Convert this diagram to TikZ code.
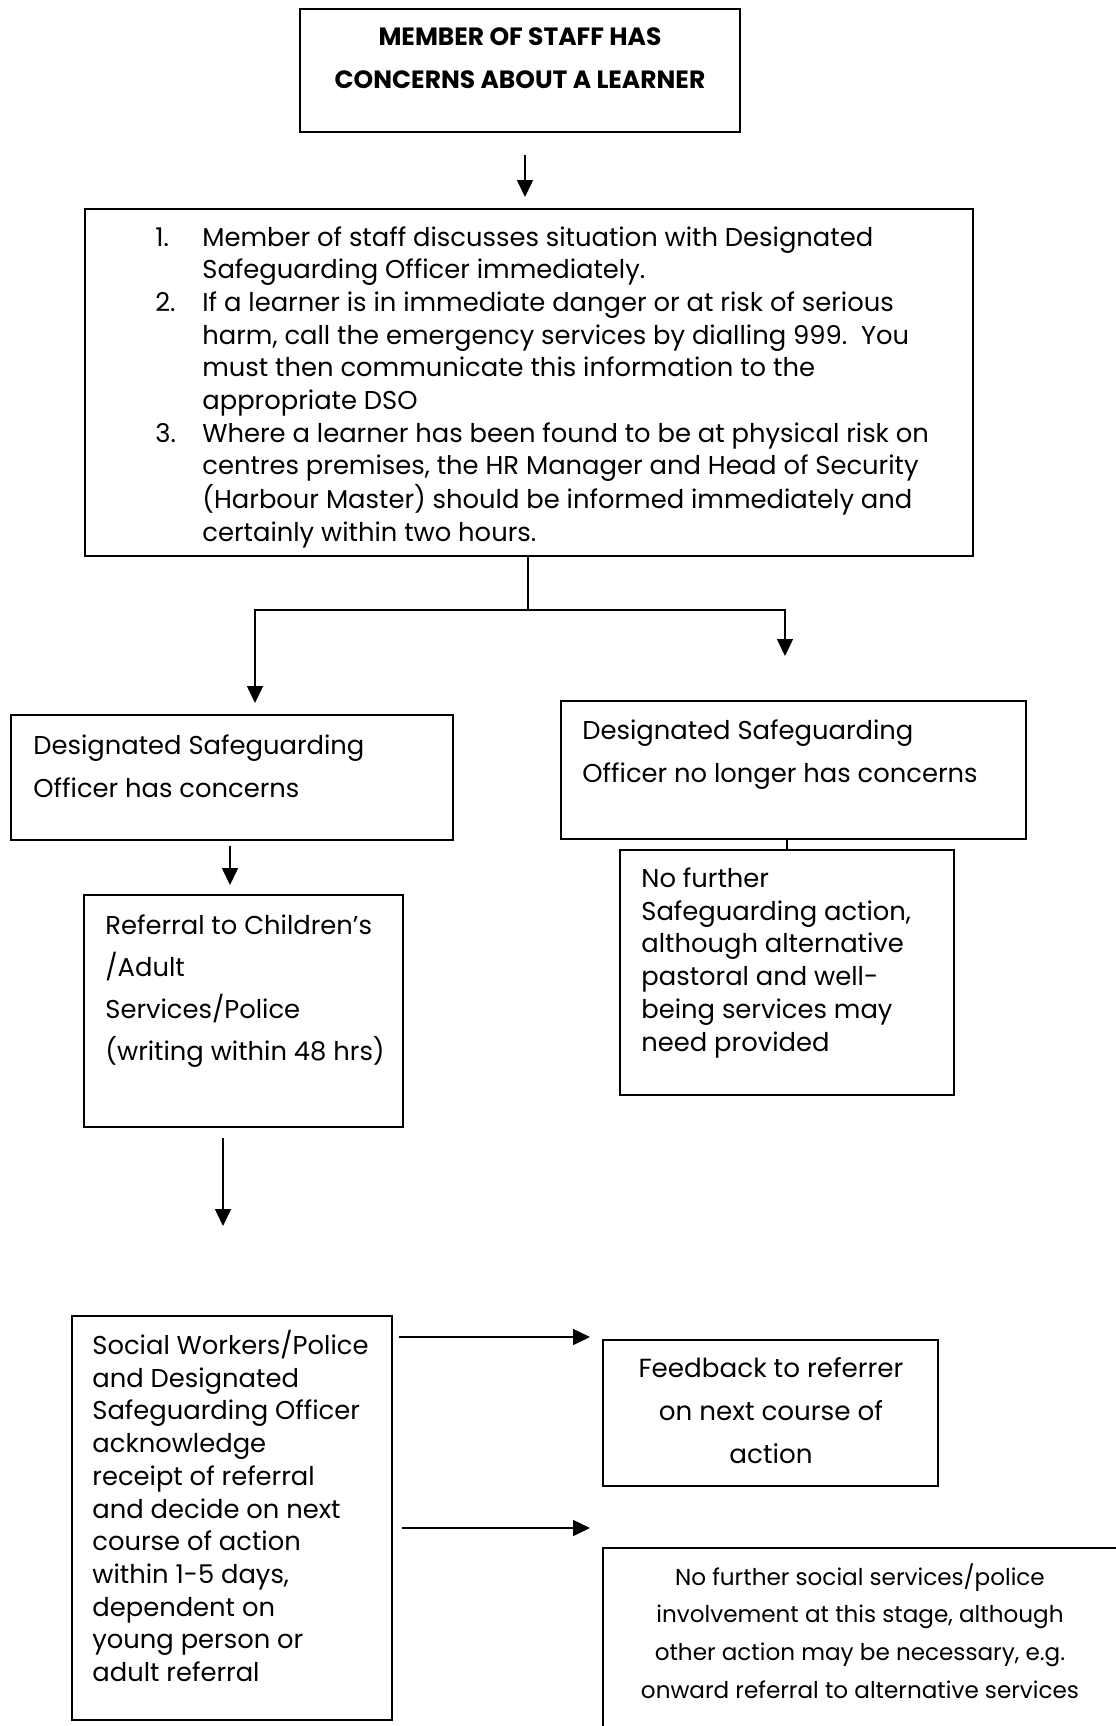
\documentclass[tikz,border=0pt]{standalone}
\usepackage{fontspec}
\setmainfont{Poppins}
\usetikzlibrary{arrows.meta, positioning, calc}

\newcommand{\boxlines}[2]{\begin{tabular}[t]{@{}#1@{}}#2\end{tabular}}

\tikzset{
    flowbox/.style={draw, rectangle, line width=1pt, inner sep=0pt},
    boxtext/.style={inner sep=0pt, anchor=base west, font=\fontsize{12.9}{16.35}\selectfont},
    widetext/.style={boxtext, font=\fontsize{12.9}{21.5}\selectfont},
    flowarrow/.style={-{Triangle[length=8.5pt, width=8pt]}, line width=0.75pt},
    flowline/.style={line width=0.75pt},
}

\begin{document}
\begin{tikzpicture}[x=0.5pt, y=-0.5pt]
    \useasboundingbox (0,0) rectangle (1115,1726);

    % Boxes
    \node[flowbox, minimum width=220pt, minimum height=61.5pt] (staff) at (520,70.5) {};
    \node[flowbox, minimum width=444pt, minimum height=173.5pt] (steps) at (529,382.5) {};
    \node[flowbox, minimum width=221pt, minimum height=62.5pt] (concern) at (232,777.5) {};
    \node[flowbox, minimum width=232.5pt, minimum height=69pt] (noconcern) at (793.5,770) {};
    \node[flowbox, minimum width=167pt, minimum height=122.5pt] (noaction) at (787,972.5) {};
    \node[flowbox, minimum width=159.5pt, minimum height=116pt] (referral) at (243.5,1011) {};
    \node[flowbox, minimum width=160pt, minimum height=202pt] (social) at (232,1518) {};
    \node[flowbox, minimum width=167.5pt, minimum height=73pt] (feedback) at (770.5,1413) {};
    \node[flowbox, minimum width=268.5pt, minimum height=101pt] (nofurther) at (871.5,1649) {};

    % Texts
    \node[boxtext, anchor=base, font=\bfseries\fontsize{12.5}{21.5}\selectfont] (stafftxt) at (520,45.5)
          {\boxlines{c}{MEMBER OF STAFF HAS\\CONCERNS ABOUT A LEARNER}};
    \node[boxtext] (stepstxt) at (155,246)
          {\begin{tabular}[t]{@{}p{23.5pt}@{}l@{}}
           1. & Member of staff discusses situation with Designated\\
              & Safeguarding Officer immediately.\\
           2. & If a learner is in immediate danger or at risk of serious\\
              & harm, call the emergency services by dialling 999.\ \ You\\
              & must then communicate this information to the\\
              & appropriate DSO\\
           3. & Where a learner has been found to be at physical risk on\\
              & centres premises, the HR Manager and Head of Security\\
              & (Harbour Master) should be informed immediately and\\
              & certainly within two hours.
           \end{tabular}};
    \node[widetext] (concerntxt) at (33,754)
          {\boxlines{l}{Designated Safeguarding\\Officer has concerns}};
    \node[widetext] (noconcerntxt) at (582,739.5)
          {\boxlines{l}{Designated Safeguarding\\Officer no longer has concerns}};
    \node[boxtext] (noactiontxt) at (641,887.5)
          {\boxlines{l}{No further\\Safeguarding action,\\although alternative\\pastoral and well-\\being services may\\need provided}};
    \node[widetext, font=\fontsize{12.9}{21}\selectfont] (referraltxt) at (105,934.5)
          {\boxlines{l}{Referral to Children’s\\/Adult\\Services/Police\\(writing within 48 hrs)}};
    \node[boxtext] (socialtxt) at (92,1354.5)
          {\boxlines{l}{Social Workers/Police\\and Designated\\Safeguarding Officer\\acknowledge\\receipt of referral\\and decide on next\\course of action\\within 1-5 days,\\dependent on\\young person or\\adult referral}};
    \node[widetext, anchor=base, font=\fontsize{13.1}{21.5}\selectfont] (feedbacktxt) at (771,1377)
          {\boxlines{c}{Feedback to referrer\\on next course of\\action}};
    \node[boxtext, anchor=base, font=\fontsize{11.55}{18.9}\selectfont] (nofurthertxt) at (860,1585)
          {\boxlines{c}{No further social services/police\\involvement at this stage, although\\other action may be necessary, e.g.\\onward referral to alternative services}};

    % Connections
    \draw[flowarrow, shorten <=11pt, shorten >=5.5pt] ([xshift=2.5pt]staff.south) -- ([xshift=2.5pt]staff.south |- steps.north);
    \coordinate (split) at ($(steps.south)+(-1,53)$);
    \draw[flowline] (steps.south -| split) -- (split);
    \draw[flowarrow, shorten >=5.5pt] (split) -| ([xshift=11.5pt]concern.north);
    \draw[flowarrow, shorten >=22pt] (split) -| ([xshift=-4.25pt]noconcern.north);
    \draw[flowline] (noaction.north) -- (noaction.north |- noconcern.south);
    \draw[flowarrow, shorten <=2.5pt, shorten >=4.5pt] ([xshift=-1pt]concern.south) -- ([xshift=-1pt]concern.south |- referral.north);
    \draw[flowarrow, shorten <=5pt, shorten >=44.5pt] ([xshift=-10.25pt]referral.south) -- ([xshift=-10.25pt]referral.south |- social.north);
    \draw[flowarrow, shorten <=3pt, shorten >=6pt] ([yshift=-11pt]social.north east) -- ([yshift=-11pt]social.north east -| feedback.west);
    \draw[flowarrow, shorten <=4.5pt, shorten >=6pt] ([yshift=-106.5pt]social.north east) -- ([yshift=-106.5pt]social.north east -| nofurther.west);
\end{tikzpicture}
\end{document}
